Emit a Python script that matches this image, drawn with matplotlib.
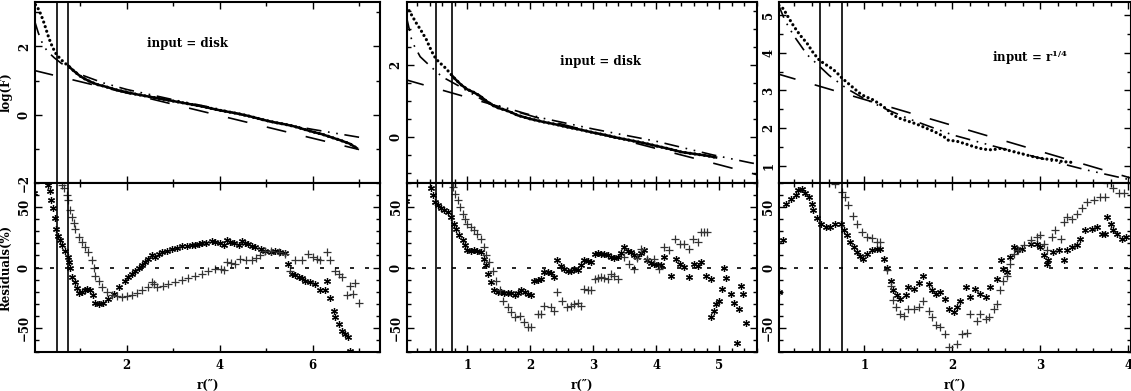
import matplotlib
matplotlib.use("Agg")
import matplotlib.pyplot as plt
from matplotlib.ticker import MultipleLocator

plt.rcParams['font.family'] = 'DejaVu Serif'
plt.rcParams['font.weight'] = 'bold'
plt.rcParams['axes.labelweight'] = 'bold'
plt.rcParams['mathtext.fontset'] = 'dejavuserif'
plt.rcParams['mathtext.default'] = 'bf'

# ---------------------------------------------------------------------------
# data
# ---------------------------------------------------------------------------
R_INNER = 0.5
R_OUTER = 0.75

# panel 1 : input = disk
p1_prof_r = [0.04, 0.08, 0.12, 0.16, 0.20, 0.24, 0.28, 0.32, 0.36, 0.40, 0.44, 0.48,
             0.52, 0.56, 0.60, 0.65, 0.70, 0.75, 0.80, 0.90, 1.00, 1.10, 1.20, 1.30,
             1.40, 1.50, 1.60, 1.80, 2.00, 2.20, 2.40, 2.60, 2.80, 3.00, 3.20, 3.40,
             3.60, 3.80, 4.00, 4.20, 4.40, 4.60, 4.80, 5.00, 5.20, 5.40, 5.60, 5.80,
             6.00, 6.20, 6.40, 6.60, 6.80, 6.95]
p1_prof_f = [3.22, 3.15, 3.05, 2.92, 2.78, 2.62, 2.45, 2.28, 2.13, 2.00, 1.89, 1.79,
             1.72, 1.66, 1.60, 1.54, 1.48, 1.43, 1.36, 1.24, 1.13, 1.05, 0.98, 0.92,
             0.87, 0.84, 0.80, 0.72, 0.66, 0.60, 0.55, 0.50, 0.45, 0.40, 0.35, 0.30,
             0.25, 0.19, 0.13, 0.08, 0.03, -0.03, -0.10, -0.17, -0.23, -0.28, -0.34, -0.42,
             -0.50, -0.57, -0.66, -0.75, -0.85, -0.98]
p1_disk_r = [0.0, 7.0]
p1_disk_f = [1.30, -1.02]
p1_bulge_r = [0.02, 0.10, 0.20, 0.30, 0.45, 0.60, 0.75, 1.00, 1.50, 2.00, 3.00, 4.00, 5.00, 6.00, 7.00]
p1_bulge_f = [2.75, 2.40, 2.05, 1.85, 1.66, 1.50, 1.38, 1.18, 0.93, 0.74, 0.44, 0.16, -0.18, -0.43, -0.66]

p1_star_r = [0.00, 0.31, 0.36, 0.38, 0.41, 0.45, 0.48, 0.52, 0.57, 0.62, 0.68, 0.74, 0.77, 0.79,
             0.82, 0.88, 0.93, 0.97, 1.04, 1.10, 1.15, 1.22, 1.28, 1.33, 1.40, 1.50, 1.61, 1.72,
             1.83, 1.97, 2.04, 2.11, 2.18, 2.26, 2.33, 2.40, 2.47, 2.54, 2.62, 2.69, 2.76, 2.86,
             2.97, 3.08, 3.19, 3.30, 3.40, 3.48, 3.55, 3.62, 3.70, 3.83, 3.90, 4.00, 4.09, 4.16,
             4.23, 4.30, 4.41, 4.48, 4.55, 4.62, 4.70, 4.77, 4.88, 4.98, 5.10, 5.20, 5.30, 5.41,
             5.48, 5.56, 5.63, 5.70, 5.77, 5.84, 5.95, 6.06, 6.17, 6.26, 6.31, 6.38, 6.45, 6.49,
             6.56, 6.63, 6.70, 6.77, 6.81]
p1_star_v = [62, 68, 63, 56, 49, 41, 32, 26, 22.5, 19, 14, 9, 4.4, 0,
             -7.5, -12, -17, -21, -20.5, -19, -18, -19, -23, -29, -30, -29, -26, -22,
             -16, -11, -8, -5, -2.5, 0, 2, 4.5, 7, 10, 8.6, 11, 12.8, 14,
             15.6, 16.5, 17.5, 18, 18.5, 19, 19.5, 20, 20.5, 21.7, 21.5, 20, 18.3, 22.5,
             21.5, 20.5, 18.3, 21.7, 20.5, 19.5, 18, 17, 15.5, 14, 13, 14, 12.5, 12,
             3, -5, -6, -8, -9, -11, -12, -13.6, -19, -19, -11, -25, -36, -41,
             -47, -52.5, -55, -57.5, -69]
p1_plus_r = [0.61, 0.66, 0.72, 0.75, 0.79, 0.82, 0.86, 0.90, 0.97, 1.04, 1.11, 1.18, 1.25, 1.29,
             1.33, 1.40, 1.47, 1.58, 1.68, 1.79, 1.90, 2.00, 2.11, 2.22, 2.33, 2.47, 2.54, 2.60,
             2.65, 2.78, 2.90, 3.05, 3.19, 3.33, 3.48, 3.62, 3.76, 3.90, 4.02, 4.09, 4.16, 4.25,
             4.34, 4.44, 4.56, 4.69, 4.78, 4.87, 4.98, 5.10, 5.27, 5.41, 5.52, 5.63, 5.77, 5.91,
             6.00, 6.09, 6.17, 6.31, 6.38, 6.49, 6.56, 6.63, 6.74, 6.81, 6.88, 6.92, 6.99]
p1_plus_v = [68, 65.6, 60, 56, 47.5, 42, 37, 32, 25, 21, 17, 12.8, 5.8, 0,
             -6.7, -11, -16, -20.6, -23, -24, -24.7, -24, -23, -21, -19, -16, -12, -14,
             -16, -15, -13.6, -12, -10, -8.5, -6.7, -5, -2.5, -1, -1.5, -2, 4.4, 4,
             3, 7, 6.5, 5.8, 8, 10, 14, 13.5, 12.8, 11, -2.5, 5.8, 6, 10.8,
             9, 7, 5.8, 12.8, 6, -2.5, -5, -8, -23, -15, -22, -13, -29]

# panel 2 : input = disk
p2_prof_r = [0.03, 0.07, 0.10, 0.15, 0.20, 0.25, 0.30, 0.35, 0.40, 0.45, 0.50, 0.55,
             0.60, 0.65, 0.70, 0.75, 0.80, 0.90, 1.00, 1.10, 1.20, 1.30, 1.40, 1.50,
             1.60, 1.70, 1.80, 1.90, 2.00, 2.20, 2.40, 2.60, 2.80, 3.00, 3.20, 3.40,
             3.60, 3.80, 4.00, 4.20, 4.40, 4.60, 4.80, 4.95]
p2_prof_f = [3.62, 3.52, 3.43, 3.28, 3.13, 3.00, 2.85, 2.70, 2.50, 2.32, 2.17, 2.08,
             2.00, 1.92, 1.82, 1.72, 1.62, 1.45, 1.32, 1.24, 1.14, 1.00, 0.88, 0.80,
             0.75, 0.68, 0.60, 0.55, 0.50, 0.42, 0.35, 0.27, 0.20, 0.12, 0.05, -0.03,
             -0.10, -0.17, -0.25, -0.33, -0.42, -0.47, -0.52, -0.57]
p2_disk_r = [0.0, 1.0, 2.2, 4.95, 5.6]
p2_disk_f = [1.60, 1.10, 0.49, -0.75, -1.05]
p2_bulge_r = [0.03, 0.08, 0.12, 0.25, 0.42, 0.60, 0.84, 1.30, 1.90, 2.20, 3.00, 4.00, 4.90, 5.50, 5.60]
p2_bulge_f = [3.35, 2.97, 2.65, 2.23, 1.95, 1.67, 1.44, 0.97, 0.66, 0.52, 0.22, -0.12, -0.50, -0.72, -0.75]

p2_star_r = [0.03, 0.42, 0.45, 0.49, 0.53, 0.58, 0.63, 0.69, 0.74, 0.78, 0.82, 0.87, 0.93, 0.96,
             1.00, 1.05, 1.11, 1.16, 1.22, 1.27, 1.30, 1.32, 1.38, 1.43, 1.48, 1.53, 1.58, 1.64,
             1.70, 1.75, 1.80, 1.85, 1.91, 1.96, 2.01, 2.06, 2.12, 2.17, 2.22, 2.28, 2.33, 2.38,
             2.43, 2.49, 2.54, 2.60, 2.65, 2.70, 2.75, 2.80, 2.86, 2.91, 2.96, 3.02, 3.08, 3.12,
             3.17, 3.23, 3.28, 3.33, 3.39, 3.44, 3.49, 3.55, 3.60, 3.65, 3.70, 3.76, 3.81, 3.86,
             3.92, 3.97, 4.02, 4.07, 4.13, 4.23, 4.31, 4.38, 4.44, 4.52, 4.60, 4.66, 4.71, 4.79,
             4.87, 4.87, 4.91, 4.95, 5.00, 5.04, 5.07, 5.10, 5.18, 5.23, 5.29, 5.31, 5.35, 5.38,
             5.42]
p2_star_v = [55, 65.5, 60, 54.4, 51.7, 49.7, 48, 46, 42, 36.4, 32, 26.7, 22.5, 18.3,
             14.2, 14, 14.2, 14, 12.8, 7.2, 1.7, -5.3, -12, -19, -20, -20.5, -21, -21.4,
             -21, -23, -21, -19, -20, -22, -23, -11, -10, -9.4, -3.9, -4, -4.7, -8,
             5.8, 1, -1.1, -3, -2.5, -1, -2, 2, 5.8, 5, 4.4, 11.4, 12, 11,
             11.4, 10, 8.6, 8, 8.6, 12, 17, 14, 12.8, 10, 8.6, 12, 14.2, 5.8,
             4, 3, 2, 1.7, 8.6, -6.7, 7.2, 3, 0.3, -8, 3, 1, 4.4, -6.7,
             -9.4, -40.8, -35.8, -30.5, -28, -17.8, 0, -8.6, -22, -29.7, -62.7, -34.4, -15, -22,
             -46]
p2_plus_r = [0.77, 0.80, 0.85, 0.89, 0.93, 0.96, 1.00, 1.06, 1.11, 1.16, 1.22, 1.27, 1.30, 1.35,
             1.40, 1.46, 1.51, 1.56, 1.64, 1.69, 1.75, 1.83, 1.90, 1.96, 2.01, 2.12, 2.17, 2.22,
             2.33, 2.38, 2.43, 2.51, 2.59, 2.65, 2.70, 2.75, 2.80, 2.86, 2.91, 2.96, 3.02, 3.07,
             3.12, 3.17, 3.23, 3.28, 3.33, 3.39, 3.49, 3.57, 3.65, 3.70, 3.76, 3.86, 3.97, 4.05,
             4.13, 4.21, 4.29, 4.37, 4.44, 4.52, 4.58, 4.66, 4.71, 4.76, 4.81]
p2_plus_v = [67, 61, 56, 50, 44.7, 40.5, 36.4, 33.6, 30.8, 28, 23.9, 17, 10, 4.4,
             -2.5, -10.8, -19, -27.5, -33, -37, -41.4, -40, -45.5, -49.7, -49.7, -38.6, -38.6, -31.7,
             -33, -36, -20.5, -27.5, -33, -32, -30, -29, -31.7, -17.8, -19, -19, -9.4, -9,
             -8, -8.5, -9.4, -5.3, -7, -9.4, 8.6, 3, -1.1, 8, 15.6, 7.2, 7.2, -1.1,
             17, 14.2, 24, 19.7, 19.7, 15.6, 24, 21, 29.4, 29, 29.4]

# panel 3 : input = r^1/4
p3_prof_r = [0.03, 0.08, 0.14, 0.20, 0.27, 0.35, 0.42, 0.49, 0.54, 0.60, 0.65, 0.70,
             0.75, 0.80, 0.84, 0.90, 0.95, 1.00, 1.10, 1.20, 1.28, 1.33, 1.40, 1.50,
             1.60, 1.70, 1.80, 1.90, 1.95, 2.05, 2.15, 2.25, 2.35, 2.45, 2.55, 2.65,
             2.75, 2.85, 2.95, 3.05, 3.15, 3.25, 3.35]
p3_prof_f = [5.26, 5.17, 4.93, 4.70, 4.47, 4.25, 4.00, 3.80, 3.72, 3.63, 3.55, 3.44,
             3.32, 3.22, 3.14, 3.02, 2.92, 2.85, 2.75, 2.60, 2.45, 2.34, 2.26, 2.18,
             2.10, 2.00, 1.90, 1.78, 1.68, 1.65, 1.58, 1.50, 1.44, 1.42, 1.46, 1.40,
             1.34, 1.28, 1.22, 1.18, 1.16, 1.11, 1.09]
p3_disk_r = [0.0, 4.03]
p3_disk_f = [3.45, 0.67]
p3_bulge_r = [0.02, 0.10, 0.20, 0.35, 0.50, 0.60, 0.80, 1.00, 1.25, 1.50, 2.00, 2.50, 3.00, 3.50, 4.03]
p3_bulge_f = [5.30, 4.85, 4.45, 3.95, 3.62, 3.40, 3.05, 2.78, 2.50, 2.25, 1.82, 1.50, 1.20, 0.90, 0.62]

p3_star_r = [0.03, 0.08, 0.11, 0.17, 0.22, 0.25, 0.29, 0.33, 0.37, 0.41, 0.42, 0.46, 0.51, 0.56,
             0.61, 0.67, 0.73, 0.77, 0.80, 0.84, 0.88, 0.92, 0.95, 0.99, 1.03, 1.09, 1.14, 1.18,
             1.22, 1.26, 1.30, 1.33, 1.37, 1.41, 1.47, 1.50, 1.56, 1.62, 1.67, 1.73, 1.77, 1.81,
             1.86, 1.92, 1.96, 2.02, 2.05, 2.09, 2.15, 2.20, 2.26, 2.32, 2.38, 2.43, 2.51, 2.55,
             2.58, 2.62, 2.66, 2.70, 2.73, 2.79, 2.89, 2.96, 3.00, 3.04, 3.07, 3.09, 3.14, 3.21,
             3.27, 3.30, 3.36, 3.42, 3.45, 3.51, 3.59, 3.64, 3.70, 3.74, 3.76, 3.80, 3.83, 3.87,
             3.93, 3.97]
p3_star_v = [-20.5, 23, 53, 56.4, 60, 64, 64.7, 62, 58.6, 53, 47.5, 41.4, 36.4, 33.6,
             33.6, 36.4, 35.8, 31.4, 26.7, 21, 17, 12.8, 9.2, 7.2, 11.4, 14.2, 15.6, 15.6,
             7.2, -0.3, -10.8, -19, -23, -26, -23, -16.4, -17.8, -13, -6.7, -13.6, -19, -22,
             -20.5, -26, -34.4, -37, -33, -27.5, -16.4, -24.7, -17.8, -22, -24.7, -16.4, -9.4, 5.8,
             -1.1, -3.9, 8.6, 17, 14.2, 15.6, 19.7, 19.7, 17, 10, 2.5, 5.8, 12.8, 14.2,
             5.8, 14.2, 17, 18.3, 24, 30.8, 32.2, 33.6, 28, 28, 42, 36.4, 30.8, 28,
             24, 25]
p3_plus_r = [0.67, 0.75, 0.78, 0.82, 0.87, 0.92, 0.97, 1.03, 1.09, 1.14, 1.18, 1.26, 1.30, 1.33,
             1.36, 1.40, 1.45, 1.50, 1.56, 1.62, 1.67, 1.73, 1.77, 1.81, 1.86, 1.92, 1.96, 2.05,
             2.11, 2.17, 2.20, 2.28, 2.32, 2.38, 2.42, 2.47, 2.51, 2.54, 2.58, 2.62, 2.66, 2.70,
             2.75, 2.81, 2.89, 2.96, 3.00, 3.04, 3.08, 3.13, 3.17, 3.23, 3.27, 3.30, 3.36, 3.42,
             3.47, 3.53, 3.61, 3.68, 3.74, 3.76, 3.83, 3.89, 3.95]
p3_plus_v = [69, 62.8, 58.6, 51.7, 43, 36.4, 29.4, 25.3, 24.7, 21, 21, -2, -15, -27,
             -33, -38.6, -40, -34.4, -34.4, -33, -27.5, -36, -41.4, -48, -49, -55, -66, -63.6,
             -55, -54, -38.6, -44, -38.6, -42.8, -41.4, -34.4, -30.3, -19, -10.8, -6.7, 3, 11.4,
             14.2, 18.3, 22.5, 25.3, 26.7, 19.7, 14.2, 25.3, 30.8, 24, 37.8, 42, 40.5, 44.7,
             48.9, 54.4, 55.8, 58.6, 58.6, 69.7, 65.6, 61.4, 61.4]

# ---------------------------------------------------------------------------
# layout (pixel positions of the three panel columns)
# ---------------------------------------------------------------------------
W, H = 1131, 391
col_left = [35, 406.7, 779.3]
col_right = [380, 757, 1131]
y_top, y_mid, y_bot = 2, 183, 352

panels = [
    dict(prof=(p1_prof_r, p1_prof_f), disk=(p1_disk_r, p1_disk_f),
         bulge=(p1_bulge_r, p1_bulge_f), star=(p1_star_r, p1_star_v),
         plus=(p1_plus_r, p1_plus_v), solid=True,
         xlim=(0.03, 7.45), xmaj=2, xmin=1, ylim=(-2, 3.3), ymaj=2, ymin=1,
         text='input = disk', txy=(0.443, 0.773)),
    dict(prof=(p2_prof_r, p2_prof_f), disk=(p2_disk_r, p2_disk_f),
         bulge=(p2_bulge_r, p2_bulge_f), star=(p2_star_r, p2_star_v),
         plus=(p2_plus_r, p2_plus_v), solid=True,
         xlim=(0.036, 5.6), xmaj=1, xmin=0.2, ylim=(-1.28, 3.75), ymaj=2, ymin=0.5,
         text='input = disk', txy=(0.552, 0.67)),
    dict(prof=(p3_prof_r, p3_prof_f), disk=(p3_disk_r, p3_disk_f),
         bulge=(p3_bulge_r, p3_bulge_f), star=(p3_star_r, p3_star_v),
         plus=(p3_plus_r, p3_plus_v), solid=False,
         xlim=(0.034, 4.03), xmaj=1, xmin=0.2, ylim=(0.54, 5.35), ymaj=1, ymin=0.5,
         text=r'input = r$^{1/4}$', txy=(0.713, 0.694)),
]


def style_axes(ax):
    for sp in ax.spines.values():
        sp.set_linewidth(1.5)
    ax.tick_params(which='both', direction='in', top=True, right=True,
                   width=1.0, labelsize=8.5)
    ax.tick_params(which='major', length=5)
    ax.tick_params(which='minor', length=3)
    ax.tick_params(axis='y', labelrotation=90, pad=3)
    ax.tick_params(axis='x', pad=5)
    for lab in ax.get_yticklabels() + ax.get_xticklabels():
        lab.set_fontweight('bold')
    for lab in ax.get_yticklabels():
        lab.set_va('center')


fig = plt.figure(figsize=(W / 100, H / 100), dpi=100)

for i, p in enumerate(panels):
    x0 = col_left[i] / W
    w = (col_right[i] - col_left[i]) / W
    ax_top = fig.add_axes([x0, 1 - y_mid / H, w, (y_mid - y_top) / H])
    ax_bot = fig.add_axes([x0, 1 - y_bot / H, w, (y_bot - y_mid) / H], sharex=ax_top)

    # upper: profile and the two fits
    pr, pf = p['prof']
    ax_top.plot(pr, pf, ls=(0, (0.01, 1.5)), lw=2.3, color='k',
                dash_capstyle='round')
    if p['solid']:
        k = next(j for j, r in enumerate(pr) if r >= R_OUTER)
        ax_top.plot(pr[k:], pf[k:], lw=1.8, color='k')
    ax_top.plot(*p['disk'], ls=(0, (12, 12)), lw=1.2, color='k')
    ax_top.plot(*p['bulge'], ls=(0, (9, 4, 1, 4, 1, 4)), lw=1.2, color='k')
    ax_top.text(p['txy'][0], p['txy'][1], p['text'], transform=ax_top.transAxes,
                ha='center', va='center', fontsize=8.5, fontweight='bold')
    ax_top.set_ylim(*p['ylim'])
    ax_top.yaxis.set_major_locator(MultipleLocator(p['ymaj']))
    ax_top.yaxis.set_minor_locator(MultipleLocator(p['ymin']))

    # lower: residuals
    ax_bot.plot(*p['star'], ls='none', marker=(6, 2, 0), ms=5, mew=0.9, color='k')
    ax_bot.plot(*p['plus'], ls='none', marker='+', ms=6, mew=0.9, color='0.2')
    ax_bot.axhline(0, ls=(0, (2.4, 6.6)), lw=1.2, color='k')
    ax_bot.set_ylim(-70, 70)
    ax_bot.yaxis.set_major_locator(MultipleLocator(50))
    ax_bot.yaxis.set_minor_locator(MultipleLocator(10))

    for ax in (ax_top, ax_bot):
        ax.axvline(R_INNER, color='k', lw=1.2)
        ax.axvline(R_OUTER, color='k', lw=1.2)

    ax_top.set_xlim(*p['xlim'])
    ax_top.xaxis.set_major_locator(MultipleLocator(p['xmaj']))
    ax_top.xaxis.set_minor_locator(MultipleLocator(p['xmin']))

    for ax in (ax_top, ax_bot):
        style_axes(ax)
    ax_top.tick_params(axis='x', labelbottom=False)

    ax_bot.set_xlabel('r(\u2033)', fontsize=8.5, fontweight='bold')
    ax_bot.xaxis.set_label_coords(0.5, -0.16)

    if i == 0:
        ax_top.set_ylabel('log(F)', fontsize=8.5, fontweight='bold')
        ax_top.yaxis.set_label_coords(-0.064, 0.5)
        ax_bot.set_ylabel('Residuals(%)', fontsize=8.5, fontweight='bold')
        ax_bot.yaxis.set_label_coords(-0.064, 0.5)

fig.savefig('out.png', dpi=100)
